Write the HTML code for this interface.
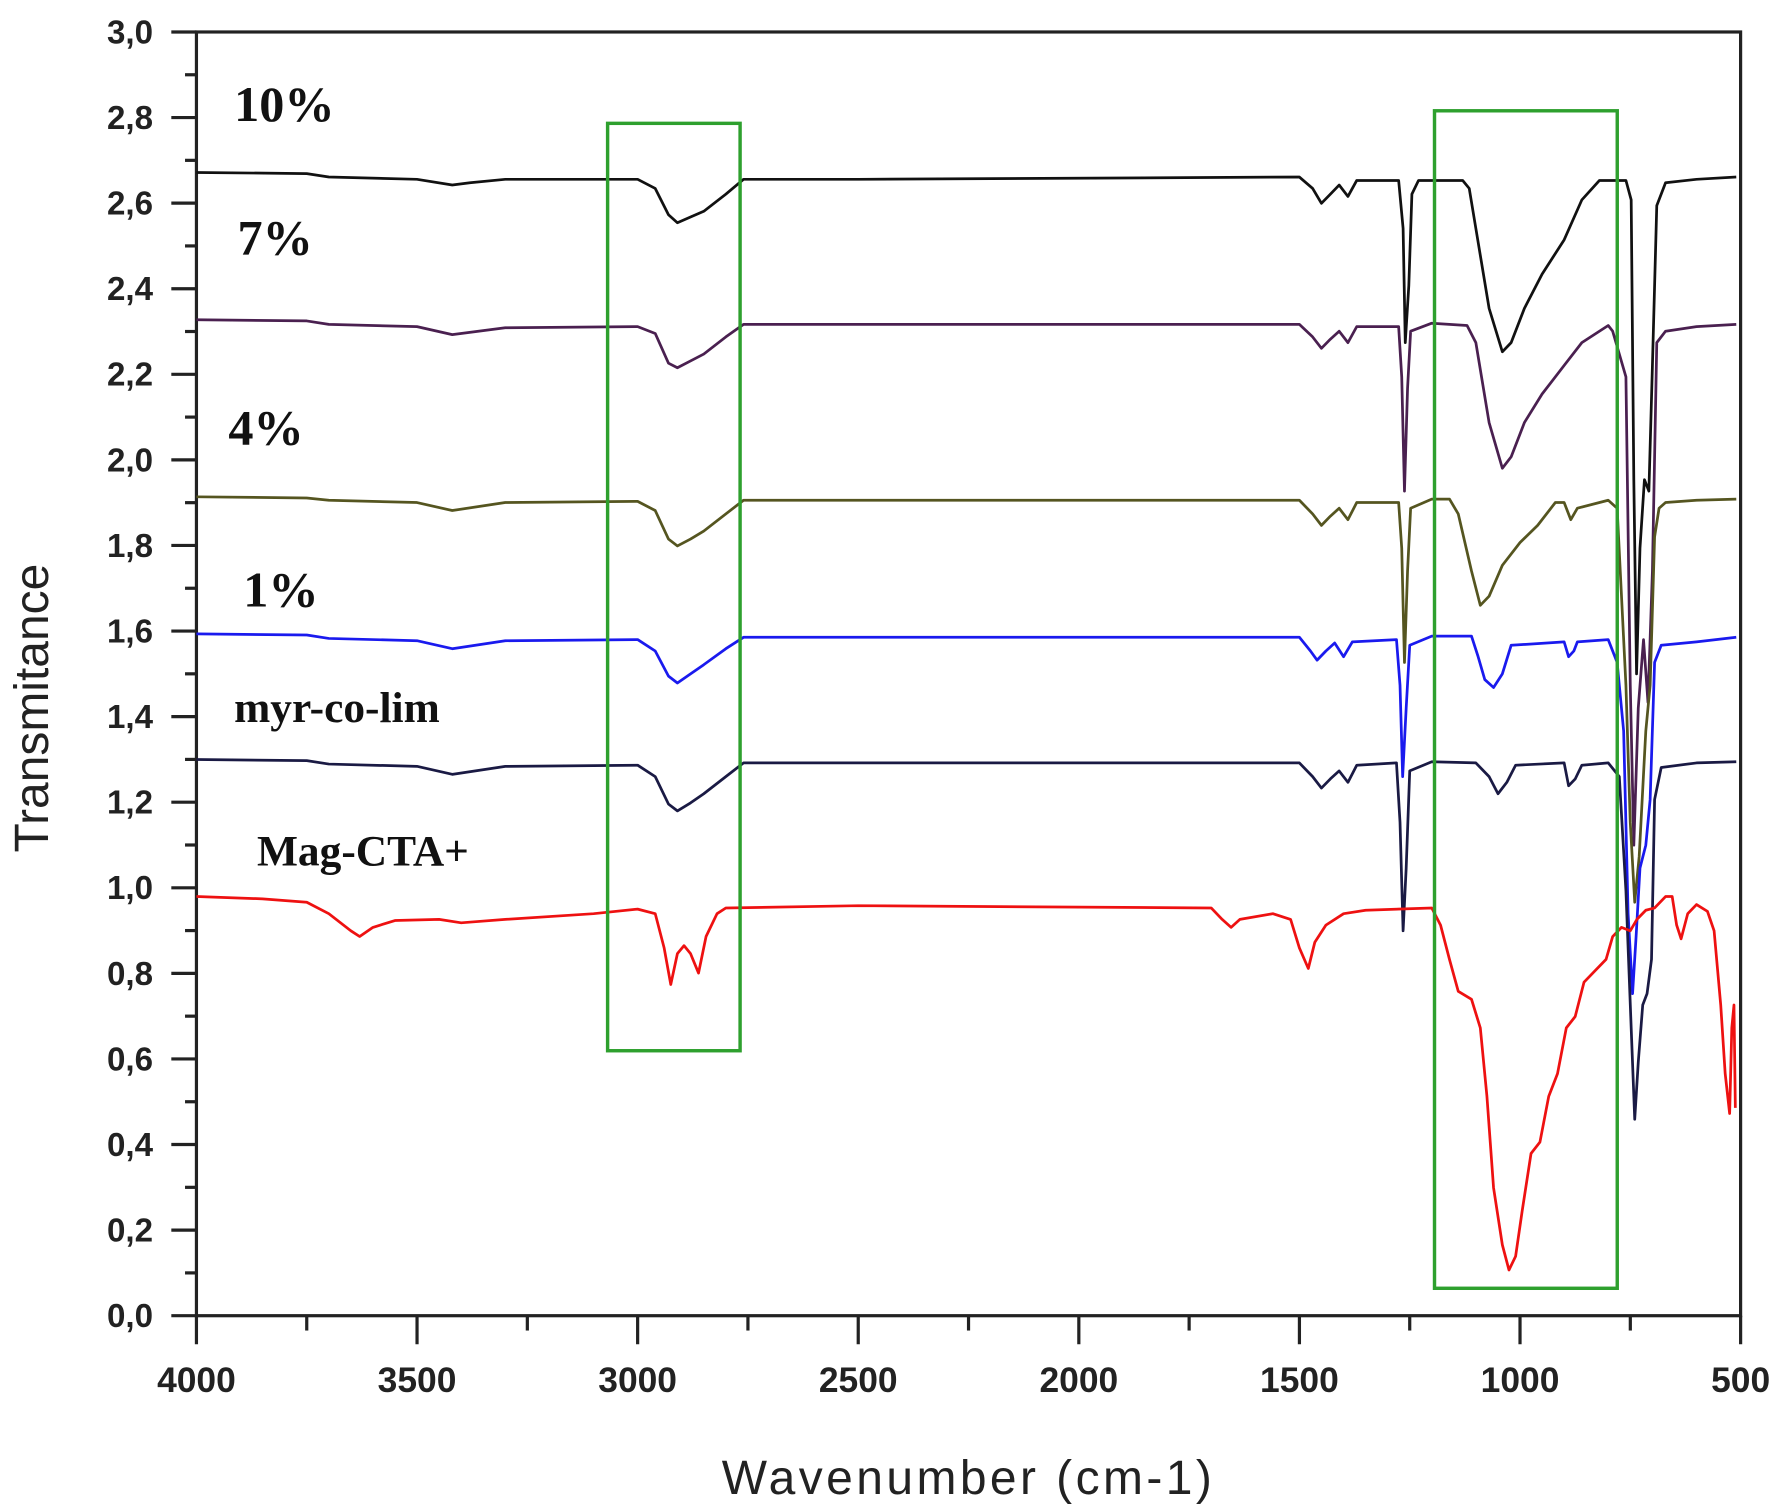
<!DOCTYPE html>
<html><head><meta charset="utf-8"><style>
html,body{margin:0;padding:0;background:#fff;}
svg{display:block;}
</style></head><body>
<svg id="s" width="1784" height="1511" viewBox="0 0 1562 1323" preserveAspectRatio="none" xmlns="http://www.w3.org/2000/svg">
<rect width="1562" height="1323" fill="#fff"/>
<g id="ax" stroke="#222" stroke-width="2.8" fill="none"></g>
<g font-family="Liberation Sans, sans-serif" font-size="29" font-weight="bold" fill="#222" id="yl" text-anchor="end"></g>
<g font-family="Liberation Sans, sans-serif" font-size="31" font-weight="bold" fill="#222" id="xl" text-anchor="middle"></g>
<text x="848" y="1308" text-anchor="middle" font-family="Liberation Sans, sans-serif" font-size="42" letter-spacing="3" fill="#222">Wavenumber (cm-1)</text>
<text transform="translate(42,620) rotate(-90)" text-anchor="middle" font-family="Liberation Sans, sans-serif" font-size="42" fill="#222">Transmitance</text>
<g id="ser" fill="none" stroke-width="2.4" stroke-linejoin="round"></g>
<rect x="532" y="108" width="116" height="812" fill="none" stroke="#2ea02e" stroke-width="3"/>
<rect x="1256" y="97" width="160" height="1031" fill="none" stroke="#2ea02e" stroke-width="3"/>
<g font-family="Liberation Serif, serif" font-weight="bold" fill="#111">
<text x="205" y="106" font-size="44">10%</text>
<text x="208" y="223" font-size="44">7%</text>
<text x="200" y="389" font-size="44">4%</text>
<text x="213" y="531" font-size="44">1%</text>
<text x="205" y="632" font-size="38">myr-co-lim</text>
<text x="225" y="758" font-size="38">Mag-CTA+</text>
</g>
</svg>
<script>
var NS="http://www.w3.org/2000/svg";
function X(w){return 172+(4000-w)*0.38629;}
function Y(t){return 1152-t*374.67;}
function el(p,tag,a,txt){var e=document.createElementNS(NS,tag);for(var k in a)e.setAttribute(k,a[k]);if(txt!==undefined)e.textContent=txt;p.appendChild(e);return e;}
var ax=document.getElementById('ax');
el(ax,'rect',{x:172,y:28,width:1352,height:1124});
for(var i=0;i<=30;i++){var t=i/10,y=Y(t);var major=i%2==0;
 el(ax,'line',{x1:major?150:162,y1:y,x2:172,y2:y});
 if(major)el(document.getElementById('yl'),'text',{x:134,y:y+10},t.toFixed(1).replace('.',','));}
for(var w=4000;w>=500;w-=250){var x=X(w);var major=w%500==0;
 el(ax,'line',{x1:x,y1:1152,x2:x,y2:major?1177:1165});
 if(major)el(document.getElementById('xl'),'text',{x:x,y:1219},w);}
var S=[
['#111',[[4000,151],[3750,152],[3700,155],[3500,157],[3420,162],[3380,160],[3300,157],[3000,157],[2960,165],[2930,188],[2910,195],[2880,190],[2850,185],[2800,170],[2760,157],[2500,157],[1500,155],[1470,165],[1450,178],[1430,170],[1410,162],[1390,172],[1370,158],[1275,158],[1265,200],[1260,300],[1252,250],[1245,170],[1230,158],[1130,158],[1115,165],[1100,200],[1070,270],[1040,308],[1020,300],[990,270],[950,240],[900,210],[860,175],[820,158],[760,158],[748,175],[742,420],[736,590],[728,480],[718,420],[708,430],[700,320],[690,180],[670,160],[600,157],[510,155]]],
['#4a2050',[[4000,280],[3750,281],[3700,284],[3500,286],[3420,293],[3300,287],[3000,286],[2960,292],[2930,318],[2910,322],[2880,316],[2850,310],[2800,295],[2760,284],[1500,284],[1470,295],[1450,305],[1430,297],[1410,290],[1390,300],[1370,286],[1275,286],[1268,330],[1262,430],[1255,340],[1248,290],[1200,283],[1120,285],[1100,300],[1070,370],[1040,410],[1020,400],[990,370],[950,345],[900,320],[860,300],[800,285],[790,290],[760,330],[750,600],[742,740],[732,620],[720,560],[710,615],[700,500],[690,300],[670,290],[600,286],[510,284]]],
['#555520',[[4000,435],[3750,436],[3700,438],[3500,440],[3420,447],[3300,440],[3000,439],[2960,447],[2930,472],[2910,478],[2880,472],[2850,465],[2800,450],[2760,438],[1500,438],[1470,450],[1450,460],[1430,452],[1410,445],[1390,455],[1370,440],[1275,440],[1268,480],[1262,580],[1255,500],[1248,445],[1200,437],[1160,437],[1140,450],[1110,500],[1090,530],[1070,522],[1040,495],[1000,475],[960,460],[920,440],[900,440],[885,455],[870,445],[800,438],[780,445],[760,600],[750,720],[740,790],[730,750],[715,640],[705,600],[695,470],[685,445],[670,440],[600,438],[510,437]]],
['#1a1aee',[[4000,555],[3750,556],[3700,559],[3500,561],[3420,568],[3300,561],[3000,560],[2960,570],[2930,592],[2910,598],[2880,590],[2850,582],[2800,568],[2760,558],[1500,558],[1475,570],[1460,578],[1440,570],[1420,563],[1400,575],[1380,562],[1280,560],[1272,600],[1266,680],[1258,620],[1250,565],[1200,557],[1110,557],[1095,575],[1080,595],[1060,602],[1040,590],[1020,565],[900,562],[890,575],[878,570],[870,562],[800,560],[780,580],[765,640],[755,800],[745,870],[737,820],[728,760],[715,740],[705,700],[695,580],[680,565],[600,562],[510,558]]],
['#1a1a44',[[4000,665],[3750,666],[3700,669],[3500,671],[3420,678],[3300,671],[3000,670],[2960,680],[2930,704],[2910,710],[2880,703],[2850,695],[2800,680],[2760,668],[1500,668],[1470,680],[1450,690],[1430,682],[1410,675],[1390,685],[1370,670],[1280,668],[1272,720],[1265,815],[1258,760],[1250,675],[1200,667],[1100,668],[1070,680],[1050,695],[1030,685],[1010,670],[900,668],[890,688],[875,682],[860,670],[800,668],[775,680],[760,780],[748,900],[740,980],[732,930],[722,880],[712,870],[702,840],[695,700],[680,672],[600,668],[510,667]]],
['#ee1111',[[4000,785],[3850,787],[3750,790],[3700,800],[3650,815],[3630,820],[3600,812],[3550,806],[3450,805],[3400,808],[3300,805],[3100,800],[3000,796],[2960,800],[2940,830],[2925,862],[2910,835],[2895,828],[2880,835],[2862,852],[2845,820],[2820,800],[2800,795],[2500,793],[1700,795],[1675,805],[1655,812],[1635,805],[1560,800],[1520,805],[1500,830],[1480,848],[1465,825],[1440,810],[1400,800],[1350,797],[1200,795],[1180,810],[1160,840],[1140,868],[1110,875],[1090,900],[1075,960],[1060,1040],[1040,1090],[1025,1112],[1010,1100],[995,1060],[975,1010],[955,1000],[935,960],[915,940],[895,900],[875,890],[855,860],[830,850],[805,840],[790,820],[770,812],[750,815],[735,805],[715,797],[695,795],[670,785],[655,785],[645,810],[635,822],[620,800],[600,792],[575,798],[560,815],[545,880],[535,940],[525,975],[520,900],[515,880],[512,970]]]
];
var g=document.getElementById('ser');
S.forEach(function(s){var pts=s[1].map(function(p){return X(p[0]).toFixed(1)+','+p[1];}).join(' ');
 el(g,'polyline',{points:pts,stroke:s[0]});});
</script>
</body></html>
